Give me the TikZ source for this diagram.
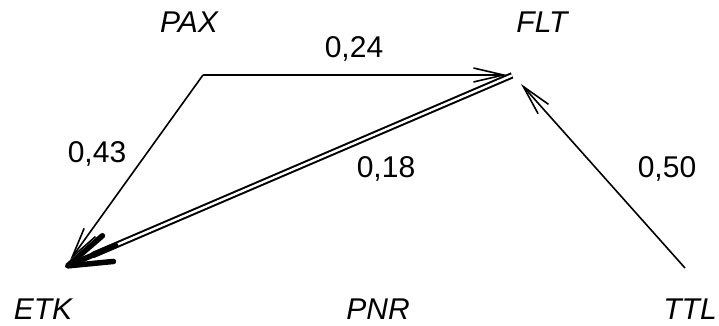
\documentclass[tikz,border=0pt]{standalone}
\usepackage{fontspec}
\setmainfont{Liberation Sans}
\usetikzlibrary{arrows.meta,calc,positioning}

\begin{document}
\begin{tikzpicture}[
      x=1pt, y=1pt,
      entity/.style={anchor=base, inner sep=0pt, font=\fontsize{30}{36}\selectfont\itshape},
      weight/.style={anchor=base, inner sep=0pt, font=\fontsize{30}{36}\selectfont},
      link/.style={-{Straight Barb[length=30pt,width=14pt]}, line width=1.6pt},
      duallink/.style={double, line width=2pt, double distance=2.4pt},
      heavytip/.style={-{Straight Barb[length=44pt,width=28pt,round]}, line width=5.5pt, line cap=round}
    ]
      \useasboundingbox (0,0) rectangle (719,326);

      % label nodes
      \node[entity] (pax_l) at (189,293) {PAX};
      \node[entity] (flt_l) at (542,293) {FLT};
      \node[entity] (etk_l) at (43,6) {ETK};
      \node[entity] (pnr_l) at (378,6) {PNR};
      \node[entity] (ttl_l) at (690,6) {TTL};

      % end points of the links
      \coordinate (pax) at (203,251);
      \coordinate (flt) at (513,251);
      \coordinate (etk) at (65,59);
      \coordinate (ttl) at (685,58);

      \draw[link, shorten >=6pt] (pax) -- (flt);
      \draw[link, shorten >=9pt] (pax) -- (etk);
      \draw[link, shorten >=12pt] (ttl) -- (flt);
      \draw[duallink, shorten <=1pt, shorten >=30pt] (flt) -- (etk);
      \draw[heavytip] ($(etk)!55pt!(flt)$) -- (etk);

      \node[weight] (w_pf) at (354,268) {0,24};
      \node[weight] (w_pe) at (97,163) {0,43};
      \node[weight] (w_fe) at (386,148) {0,18};
      \node[weight] (w_tf) at (667,148) {0,50};
    \end{tikzpicture}
\end{document}
